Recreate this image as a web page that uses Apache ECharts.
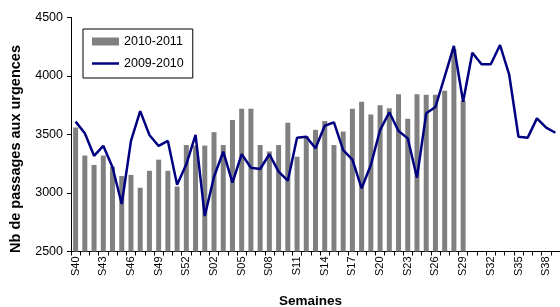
<!DOCTYPE html>
<html>
<head>
<meta charset="utf-8">
<script src="https://cdn.jsdelivr.net/npm/echarts@6/dist/echarts.min.js"></script>
<style>
  html, body { margin: 0; padding: 0; background: #fff; }
  #chart { width: 560px; height: 307px; }
</style>
</head>
<body>
<div id="chart"></div>
<script>
// semaines S40 (2009/2010 a 53 semaines) -> S39
var weeks = ['S40','S41','S42','S43','S44','S45','S46','S47','S48','S49','S50','S51','S52','S53',
  'S01','S02','S03','S04','S05','S06','S07','S08','S09','S10','S11','S12','S13','S14','S15','S16',
  'S17','S18','S19','S20','S21','S22','S23','S24','S25','S26','S27','S28','S29','S30','S31','S32',
  'S33','S34','S35','S36','S37','S38','S39'];

// 2010-2011 (barres, jusqu'a S29)
var season1011 = [3560, 3320, 3240, 3320, 3225, 3145, 3155, 3045, 3190, 3285, 3190, 3055, 3410, 3405,
  3405, 3520, 3410, 3625, 3720, 3720, 3410, 3355, 3410, 3600, 3310, 3485, 3540, 3615, 3410, 3525,
  3720, 3780, 3670, 3750, 3725, 3845, 3635, 3845, 3840, 3840, 3875, 4230, 3790];

// 2009-2010 (ligne)
var season0910 = [3610, 3510, 3318, 3403, 3220, 2906, 3445, 3700, 3496, 3402, 3445, 3070, 3245, 3496,
  2803, 3139, 3353, 3088, 3332, 3216, 3205, 3331, 3182, 3105, 3473, 3481, 3382, 3575, 3604, 3367,
  3285, 3040, 3239, 3538, 3690, 3530, 3467, 3131, 3681, 3735, 3995, 4257, 3780, 4199, 4100, 4100,
  4265, 4009, 3481, 3473, 3638, 3558, 3515];

var yTicks = { min: 2500, max: 4500, step: 500 };

var font = "'Liberation Sans', Arial, sans-serif";

var myChart = echarts.init(document.getElementById('chart'), null, { renderer: 'canvas' });

var option = {
  animation: false,
  backgroundColor: '#fff',
  grid: { left: 71, right: -2, top: 17.5, bottom: 55.5, containLabel: false },
  legend: {
    orient: 'vertical',
    left: 83,
    top: 29,
    padding: [6, 9, 8, 9],
    itemGap: 9,
    itemWidth: 27,
    itemHeight: 8,
    borderColor: '#000',
    borderWidth: 1,
    textStyle: { fontFamily: font, fontSize: 12.5, color: '#000' },
    data: [
      { name: '2010-2011', icon: 'rect' },
      // trait simple, sans marqueur
      { name: '2009-2010', icon: 'path://M0,0 M27,8 M0,2.75 L27,2.75 L27,5.25 L0,5.25 Z' }
    ]
  },
  xAxis: {
    type: 'category',
    data: weeks,
    boundaryGap: true,
    axisLine: { lineStyle: { color: '#000', width: 1 } },
    axisTick: { show: true, interval: 0, length: 4, lineStyle: { color: '#000' } },
    axisLabel: {
      interval: 2,
      rotate: 90,
      margin: 5,
      color: '#000',
      fontSize: 11,
      fontFamily: "'Liberation Sans Narrow', 'Liberation Sans', Arial, sans-serif"
    },
    splitLine: { show: false }
  },
  yAxis: {
    type: 'value',
    min: yTicks.min,
    max: yTicks.max,
    interval: yTicks.step,
    axisLine: { show: true, lineStyle: { color: '#000', width: 1 } },
    axisTick: { show: true, length: 4, lineStyle: { color: '#000' } },
    axisLabel: {
      margin: 8, color: '#000', fontSize: 12.5, fontFamily: font,
      formatter: function (v) { return String(v); }
    },
    splitLine: { show: false }
  },
  graphic: [
    {
      type: 'text',
      x: 16, y: 149,
      rotation: Math.PI / 2,
      style: {
        text: 'Nb de passages aux urgences',
        font: 'bold 14.5px ' + font,
        fill: '#000',
        align: 'center',
        verticalAlign: 'middle'
      }
    },
    {
      type: 'text',
      x: 310.5, y: 301,
      style: {
        text: 'Semaines',
        font: 'bold 13.5px ' + font,
        fill: '#000',
        align: 'center',
        verticalAlign: 'middle'
      }
    }
  ],
  series: [
    {
      name: '2010-2011',
      type: 'bar',
      data: season1011,
      barWidth: 5,
      itemStyle: { color: '#808080' }
    },
    {
      name: '2009-2010',
      type: 'line',
      data: season0910,
      symbol: 'none',
      lineStyle: { color: '#000080', width: 2.5 },
      itemStyle: { color: '#000080' }
    }
  ]
};

myChart.setOption(option);
</script>
</body>
</html>
